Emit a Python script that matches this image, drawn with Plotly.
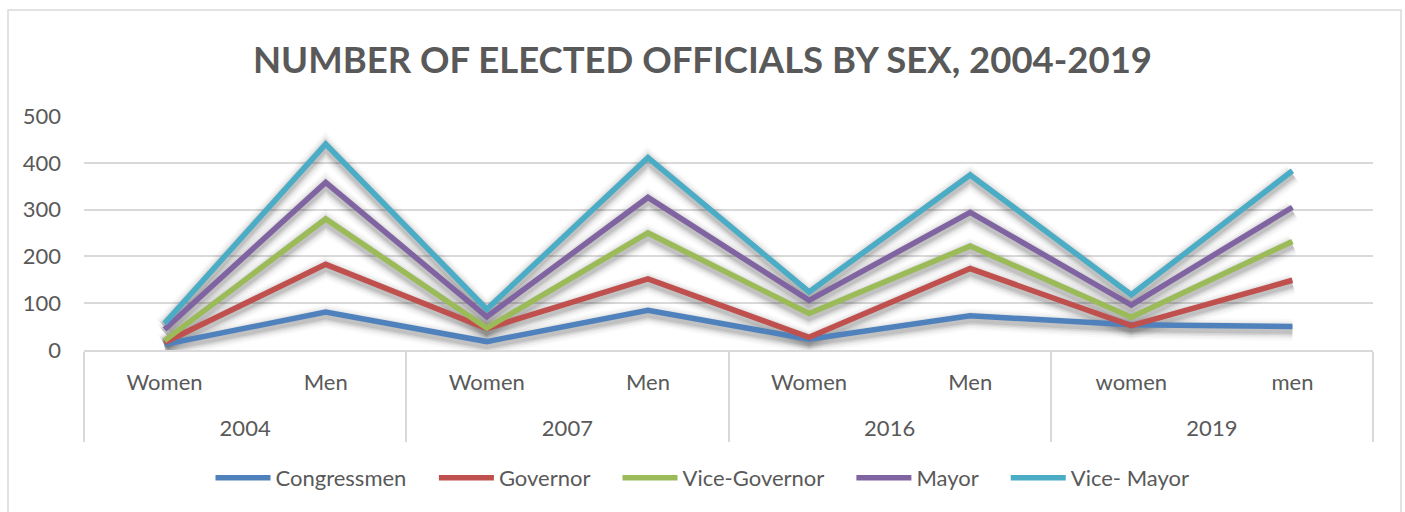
import plotly.graph_objects as go

# Category levels (election year, sex)
years = ["2004", "2004", "2007", "2007", "2016", "2016", "2019", "2019"]
sexes = ["Women", "Men", "Women", "Men", "Women", "Men", "women", "men"]

# Series values
congressmen = [12, 81, 18, 85, 23, 73, 54, 50]
governor = [16, 183, 46, 152, 27, 174, 52, 149]
vice_governor = [20, 280, 47, 250, 78, 222, 70, 232]
mayor = [44, 358, 71, 326, 106, 294, 96, 305]
vice_mayor = [57, 440, 87, 411, 124, 374, 118, 383]

series = [
    ("Congressmen", congressmen, "#4f81bd"),
    ("Governor", governor, "#c0504d"),
    ("Vice-Governor", vice_governor, "#9bbb59"),
    ("Mayor", mayor, "#8064a2"),
    ("Vice- Mayor", vice_mayor, "#4bacc6"),
]

TXT = "#595959"
GRID = "#d9d9d9"
FONT = "Lato, 'Open Sans', sans-serif"
LEGEND_PAD = "&nbsp;" * 4  # extra room between legend entries

# year labels sit one line below the sex labels on the category axis
x_cats = [["<br>" + y for y in years], sexes]

fig = go.Figure()

# base axis carries the gridlines and tick labels
fig.add_trace(go.Scatter(
    x=x_cats, y=[None] * len(years), mode="lines",
    showlegend=False, hoverinfo="skip",
))

# soft drop shadows: same data on an overlaid axis shifted a few pixels down
for name, vals, color in series:
    for w, op in [(22, 0.025), (18, 0.04), (14, 0.06), (11, 0.08), (8, 0.1)]:
        fig.add_trace(go.Scatter(
            x=x_cats, y=vals, mode="lines", yaxis="y2",
            line=dict(color="rgba(30,30,30,%s)" % op, width=w),
            hoverinfo="skip", showlegend=False,
        ))

for i, (name, vals, color) in enumerate(series):
    label = name + (LEGEND_PAD if i < len(series) - 1 else "")
    fig.add_trace(go.Scatter(
        x=x_cats, y=vals, mode="lines", name=label, yaxis="y3",
        line=dict(color=color, width=5.5),
    ))

L, R, T, B = 84, 32, 116, 162
W, H = 1405, 512
pw, ph = W - L - R, H - T - B


def px_x(p):
    return (p - L) / pw


def px_y(p):
    return (H - B - p) / ph


fig.update_layout(
    width=W, height=H,
    margin=dict(l=L, r=R, t=T, b=B),
    paper_bgcolor="white", plot_bgcolor="white",
    font=dict(family=FONT, color=TXT, size=22),
    title=dict(
        text="<b>NUMBER OF ELECTED OFFICIALS BY SEX, 2004-2019</b>",
        x=0.5, xref="container", y=1 - 60 / H, yref="container",
        xanchor="center", yanchor="middle",
        font=dict(family=FONT, size=36.5, color=TXT),
    ),
    xaxis=dict(
        type="multicategory", range=[-0.5, 7.5],
        showline=True, linecolor=GRID, linewidth=1.5,
        showgrid=False, showdividers=True, dividercolor=GRID, dividerwidth=1.5,
        tickfont=dict(size=22, color=TXT), ticks="", ticklabelstandoff=12,
    ),
    yaxis=dict(
        range=[0, 500], tickvals=[0, 100, 200, 300, 400, 500],
        showgrid=True, gridcolor=GRID, gridwidth=1.5, zeroline=False,
        showline=False, ticks="", tickfont=dict(size=22, color=TXT),
        ticklabelstandoff=22,
    ),
    yaxis2=dict(range=[7, 507], overlaying="y", visible=False, showgrid=False),
    yaxis3=dict(range=[0, 500], overlaying="y", visible=False, showgrid=False),
    legend=dict(
        orientation="h", x=0.5, xanchor="center", xref="container",
        y=1 - 478 / H, yref="container", yanchor="middle",
        font=dict(size=22, color=TXT), itemwidth=55,
    ),
    shapes=[dict(
        type="rect", xref="paper", yref="paper",
        x0=px_x(8), x1=px_x(1401), y0=px_y(520), y1=px_y(10),
        line=dict(color=GRID, width=1.5), fillcolor="rgba(0,0,0,0)", layer="below",
    )],
)

fig.write_html("out.html")
